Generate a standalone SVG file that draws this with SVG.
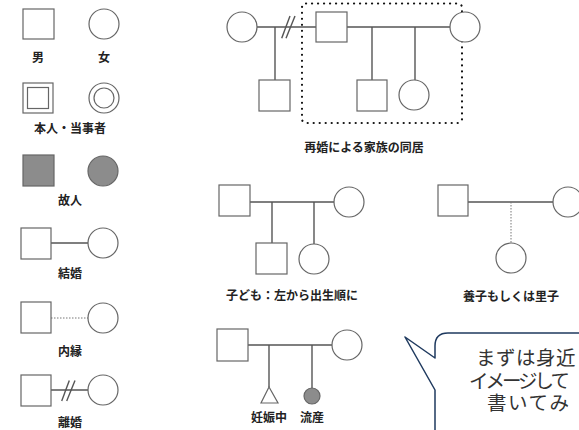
<svg xmlns="http://www.w3.org/2000/svg" width="579" height="430" viewBox="0 0 579 430">
<style>
.s{fill:#fff;stroke:#666;stroke-width:1.2}
.d{fill:#8c8c8c;stroke:#666;stroke-width:1.2}
.c{stroke:#555;stroke-width:1.4;fill:none}
.dot{stroke:#777;stroke-width:1;stroke-dasharray:1.5 1.5;fill:none}
.lb{font-family:"Noto Sans CJK JP","Noto Sans",sans-serif;font-size:12px;font-weight:700;fill:#222;text-anchor:middle}
.bt{font-family:"Noto Sans CJK JP","Noto Sans",sans-serif;font-size:19.5px;fill:#333}
</style>
<rect width="579" height="430" fill="#fff"/>
<!-- legend -->
<g id="legend-male"><rect class="s" x="23" y="9" width="31" height="30"/><text class="lb" x="38" y="62">男</text></g>
<g id="legend-female"><circle class="s" cx="104" cy="24" r="15"/><text class="lb" x="104" y="62">女</text></g>
<g id="legend-self"><rect class="s" x="23" y="83" width="30" height="30"/><rect class="s" x="27.5" y="87.5" width="21" height="21"/><circle class="s" cx="104" cy="98" r="15"/><circle class="s" cx="104" cy="98" r="10"/><text class="lb" x="70" y="133">本人・当事者</text></g>
<g id="legend-deceased"><rect class="d" x="23" y="155" width="31" height="31"/><circle class="d" cx="103" cy="171" r="15"/><text class="lb" x="70" y="205">故人</text></g>
<g id="legend-marriage"><line class="c" x1="51" y1="243" x2="88" y2="243"/><rect class="s" x="21" y="228" width="30" height="31"/><circle class="s" cx="103" cy="243" r="15"/><text class="lb" x="70" y="278">結婚</text></g>
<g id="legend-common"><line class="dot" x1="51" y1="318" x2="88" y2="318"/><rect class="s" x="21" y="302" width="30" height="31"/><circle class="s" cx="103" cy="318" r="15"/><text class="lb" x="70" y="356">内縁</text></g>
<g id="legend-divorce"><line class="c" x1="51" y1="390" x2="88" y2="390"/><line class="c" x1="61.7" y1="401" x2="69.3" y2="380.5"/><line class="c" x1="66.7" y1="401" x2="75" y2="380.5"/><rect class="s" x="21" y="375" width="30" height="31"/><circle class="s" cx="103" cy="390" r="15"/><text class="lb" x="70" y="426.5">離婚</text></g>

<g id="connectors">
<!-- remarriage -->
<line class="c" x1="257" y1="27" x2="316" y2="27"/>
<line class="c" x1="275" y1="27" x2="275" y2="80"/>
<line class="c" x1="281.7" y1="38.3" x2="290" y2="16"/>
<line class="c" x1="286" y1="38.3" x2="295" y2="16"/>
<line class="c" x1="347" y1="27" x2="450" y2="27"/>
<line class="c" x1="372" y1="27" x2="372" y2="80"/>
<line class="c" x1="415" y1="27" x2="415" y2="80"/>
<!-- children -->
<line class="c" x1="250" y1="202" x2="334" y2="202"/>
<line class="c" x1="272" y1="202" x2="272" y2="243"/>
<line class="c" x1="314" y1="202" x2="314" y2="244"/>
<!-- adoption -->
<line class="c" x1="468" y1="202" x2="553" y2="202"/>
<line class="dot" x1="511" y1="202" x2="511" y2="243"/>
<!-- pregnancy -->
<line class="c" x1="248" y1="345" x2="332" y2="345"/>
<line class="c" x1="269" y1="345" x2="269" y2="387"/>
<line class="c" x1="312" y1="345" x2="312" y2="388"/>
</g>

<g id="remarriage">
<rect x="302" y="3.5" width="160" height="119.5" rx="4" fill="none" stroke="#111" stroke-width="2.2" stroke-linecap="round" stroke-dasharray="0.1 5.9"/>
<circle class="s" cx="242" cy="27" r="15"/>
<rect class="s" x="259" y="80" width="31" height="31"/>
<rect class="s" x="316" y="12" width="31" height="30"/>
<circle class="s" cx="465" cy="27" r="15"/>
<rect class="s" x="357" y="80" width="30" height="31"/>
<circle class="s" cx="414" cy="95" r="15"/>
<text class="lb" x="364" y="152">再婚による家族の同居</text>
</g>

<g id="children">
<rect class="s" x="219" y="185" width="31" height="31"/>
<circle class="s" cx="349" cy="202" r="15"/>
<rect class="s" x="256" y="243" width="31" height="31"/>
<circle class="s" cx="314" cy="259" r="15"/>
<text class="lb" x="292" y="300">子ども：左から出生順に</text>
</g>

<g id="adoption">
<rect class="s" x="438" y="185" width="30" height="31"/>
<circle class="s" cx="568" cy="202" r="15"/>
<circle class="s" cx="511" cy="258" r="15"/>
<text class="lb" x="511" y="301">養子もしくは里子</text>
</g>

<g id="pregnancy">
<rect class="s" x="217" y="329" width="31" height="32"/>
<circle class="s" cx="347" cy="345" r="15"/>
<polygon class="s" points="269,387 261,403 278,403"/>
<circle class="d" cx="312" cy="396" r="8"/>
<text class="lb" x="269" y="422">妊娠中</text>
<text class="lb" x="312" y="422">流産</text>
</g>

<g id="bubble">
<path d="M448,333 L600,333 L600,440 L435,440 L435,390 L405,337 L435,358 L435,346 Q435,333 448,333 Z" fill="#fff" stroke="#1f3a5f" stroke-width="1.5" stroke-linejoin="round"/>
<text class="bt" x="476" y="365" letter-spacing="0.5">まずは身近</text>
<text class="bt" x="469" y="387.5" letter-spacing="-3">イメージして</text>
<text class="bt" x="487" y="410" letter-spacing="1.5">書いてみ</text>
</g>
</svg>
